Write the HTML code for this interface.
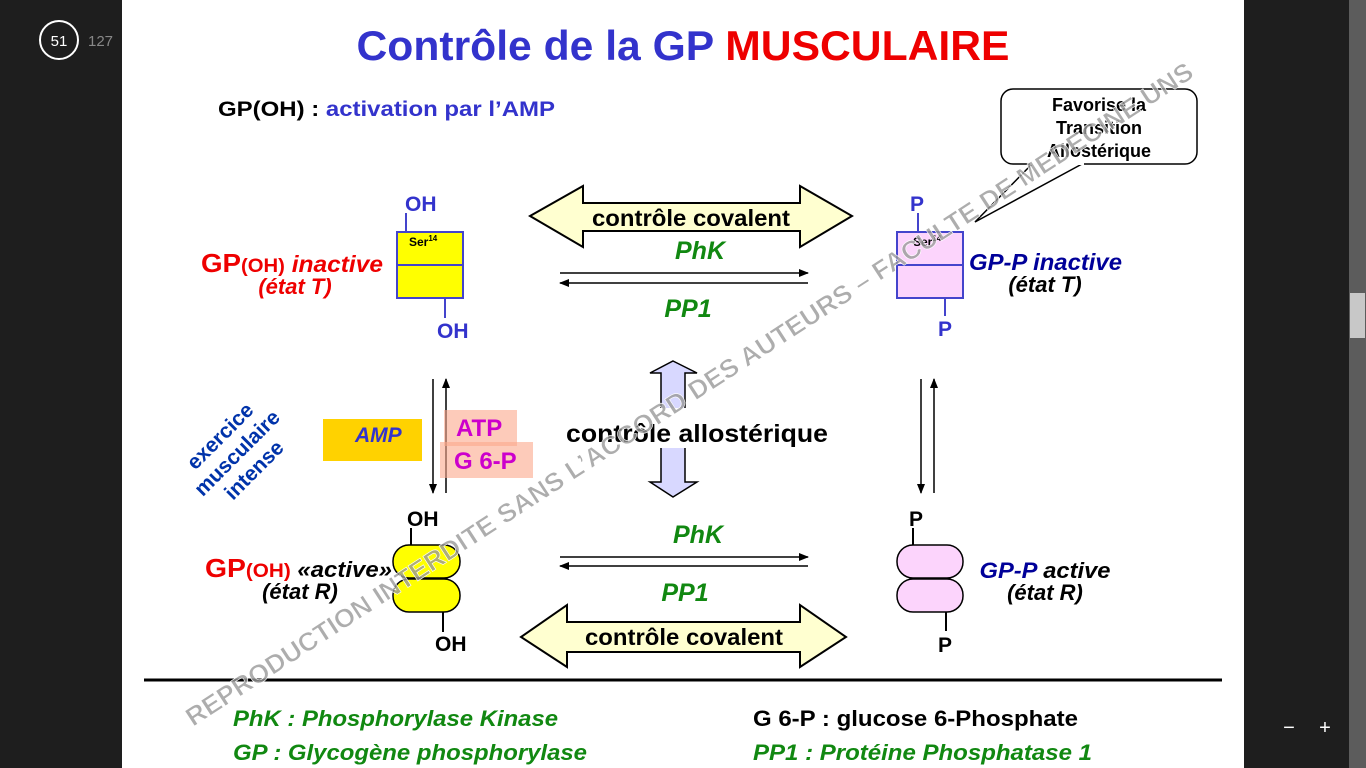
<!DOCTYPE html>
<html><head><meta charset="utf-8"><style>
html,body{margin:0;padding:0;background:#1e1e1e;width:1366px;height:768px;overflow:hidden}
svg{display:block}
text{font-family:"Liberation Sans",Arial,sans-serif;font-weight:bold}
</style></head><body>
<svg width="1366" height="768" viewBox="0 0 1366 768" xmlns="http://www.w3.org/2000/svg">
<defs>
<marker id="ah" markerWidth="10" markerHeight="8" refX="9" refY="4" orient="auto" markerUnits="userSpaceOnUse"><path d="M0,0 L10,4 L0,8 Z" fill="#000"/></marker>
</defs>
<rect x="0" y="0" width="1366" height="768" fill="#1e1e1e"/>
<rect x="122" y="0" width="1122" height="768" fill="#fff"/>
<rect x="1349" y="0" width="17" height="768" fill="#5c5c5c"/>
<rect x="1350" y="293" width="15" height="45" fill="#c8c8c8"/>
<circle cx="59" cy="40" r="19" fill="none" stroke="#fff" stroke-width="2"/>
<text x="59" y="46" text-anchor="middle" font-size="15" fill="#fff" style="font-weight:normal">51</text>
<text x="88" y="46" font-size="15" fill="#888" style="font-weight:normal">127</text>
<text x="1289" y="734" text-anchor="middle" font-size="20" fill="#fff" style="font-weight:normal">−</text>
<text x="1325" y="734" text-anchor="middle" font-size="20" fill="#fff" style="font-weight:normal">+</text>

<text x="683" y="60" text-anchor="middle" font-size="42" fill="#3333cc" textLength="653" lengthAdjust="spacingAndGlyphs">Contrôle de la GP <tspan fill="#ee0000">MUSCULAIRE</tspan></text>
<text x="218" y="116" font-size="21" fill="#000" textLength="337" lengthAdjust="spacingAndGlyphs">GP(OH) : <tspan fill="#3333cc">activation par l’AMP</tspan></text>

<!-- callout -->
<path d="M1032,164 L975,222 L1082,164" fill="#fff" stroke="#000" stroke-width="1.5"/>
<rect x="1001" y="89" width="196" height="75" rx="12" fill="#fff" stroke="#000" stroke-width="1.5"/>
<rect x="1030" y="160" width="54" height="5" fill="#fff"/>
<text font-size="18" fill="#000" text-anchor="middle"><tspan x="1099" y="111">Favorise la</tspan><tspan x="1099" y="134">Transition</tspan><tspan x="1099" y="157">Allostérique</tspan></text>

<!-- top-left box -->
<line x1="406" y1="213" x2="406" y2="232" stroke="#4444cc" stroke-width="2"/>
<text x="405" y="211" font-size="21" fill="#3333cc">OH</text>
<rect x="397" y="232" width="66" height="66" fill="#ffff00" stroke="#4444cc" stroke-width="2"/>
<line x1="397" y1="265" x2="463" y2="265" stroke="#4444cc" stroke-width="2"/>
<text x="409" y="246" font-size="12" fill="#000">Ser<tspan font-size="8" dy="-5">14</tspan></text>
<line x1="445" y1="298" x2="445" y2="318" stroke="#4444cc" stroke-width="2"/>
<text x="437" y="338" font-size="21" fill="#3333cc">OH</text>
<text x="201" y="272" font-size="26" fill="#ee0000" textLength="182" lengthAdjust="spacingAndGlyphs">GP<tspan font-size="19">(OH)</tspan><tspan font-size="23" font-style="italic"> inactive</tspan></text>
<text x="295" y="294" text-anchor="middle" font-size="22" font-style="italic" fill="#ee0000">(état T)</text>

<!-- top-right box -->
<line x1="918" y1="213" x2="918" y2="232" stroke="#4444cc" stroke-width="2"/>
<text x="910" y="211" font-size="21" fill="#3333cc">P</text>
<rect x="897" y="232" width="66" height="66" fill="#fcd4fc" stroke="#4444cc" stroke-width="2"/>
<line x1="897" y1="265" x2="963" y2="265" stroke="#4444cc" stroke-width="2"/>
<text x="913" y="246" font-size="12" fill="#000">Ser<tspan font-size="8" dy="-5">14</tspan></text>
<line x1="945" y1="298" x2="945" y2="316" stroke="#4444cc" stroke-width="2"/>
<text x="938" y="336" font-size="21" fill="#3333cc">P</text>
<text x="969" y="270" font-size="23" font-style="italic" fill="#000099" textLength="153" lengthAdjust="spacingAndGlyphs">GP-P inactive</text>
<text x="1045" y="292" text-anchor="middle" font-size="22" font-style="italic" fill="#000">(état T)</text>

<!-- top covalent arrow -->
<path d="M530,216 L583,186 L583,203 L800,203 L800,186 L852,216 L800,247 L800,231 L583,231 L583,247 Z" fill="#ffffd0" stroke="#000" stroke-width="2"/>
<text x="691" y="226" text-anchor="middle" font-size="23" fill="#000" textLength="198" lengthAdjust="spacingAndGlyphs">contrôle covalent</text>
<text x="700" y="259" text-anchor="middle" font-size="25" font-style="italic" fill="#118811">PhK</text>
<line x1="560" y1="273" x2="808" y2="273" stroke="#000" stroke-width="1.5" marker-end="url(#ah)"/>
<line x1="808" y1="283" x2="560" y2="283" stroke="#000" stroke-width="1.5" marker-end="url(#ah)"/>
<text x="688" y="317" text-anchor="middle" font-size="25" font-style="italic" fill="#118811">PP1</text>

<!-- left verticals -->
<line x1="433" y1="379" x2="433" y2="493" stroke="#000" stroke-width="1.5" marker-end="url(#ah)"/>
<line x1="446" y1="493" x2="446" y2="379" stroke="#000" stroke-width="1.5" marker-end="url(#ah)"/>
<rect x="323" y="419" width="99" height="42" fill="#ffd200"/>
<text x="355" y="442" font-size="21" font-style="italic" fill="#3333cc">AMP</text>
<rect x="444" y="410" width="73" height="36" fill="#fba98c" fill-opacity="0.6"/>
<rect x="440" y="442" width="93" height="36" fill="#fba98c" fill-opacity="0.6"/>
<text x="456" y="436" font-size="24" fill="#cc00cc">ATP</text>
<text x="454" y="469" font-size="24" fill="#cc00cc">G 6-P</text>
<text transform="translate(242,458) rotate(-45)" text-anchor="middle" font-size="21" fill="#0033aa"><tspan x="0" y="-24">exercice</tspan><tspan x="0" y="0">musculaire</tspan><tspan x="0" y="24">intense</tspan></text>

<!-- allosteric arrow -->
<path d="M673,361 L697,373 L685,373 L685,482 L697,482 L673,497 L650,482 L661,482 L661,373 L650,373 Z" fill="#d8d8ff" stroke="#000" stroke-width="1.5"/>
<rect x="640" y="408" width="60" height="40" fill="#fff"/>
<text x="697" y="442" text-anchor="middle" font-size="25" fill="#000" textLength="262" lengthAdjust="spacingAndGlyphs">contrôle allostérique</text>

<!-- right verticals -->
<line x1="921" y1="379" x2="921" y2="493" stroke="#000" stroke-width="1.5" marker-end="url(#ah)"/>
<line x1="934" y1="493" x2="934" y2="379" stroke="#000" stroke-width="1.5" marker-end="url(#ah)"/>

<!-- lower left -->
<text x="407" y="526" font-size="21" fill="#000">OH</text>
<line x1="411" y1="528" x2="411" y2="546" stroke="#000" stroke-width="2"/>
<rect x="393" y="545" width="67" height="33" rx="16" fill="#ffff00" stroke="#000" stroke-width="1.5"/>
<rect x="393" y="579" width="67" height="33" rx="16" fill="#ffff00" stroke="#000" stroke-width="1.5"/>
<line x1="443" y1="612" x2="443" y2="632" stroke="#000" stroke-width="2"/>
<text x="435" y="651" font-size="21" fill="#000">OH</text>
<text x="205" y="577" font-size="26" fill="#ee0000" textLength="187" lengthAdjust="spacingAndGlyphs">GP<tspan font-size="19">(OH)</tspan><tspan font-size="22" font-style="italic" fill="#000"> «active»</tspan></text>
<text x="300" y="599" text-anchor="middle" font-size="22" font-style="italic" fill="#000">(état R)</text>

<text x="698" y="543" text-anchor="middle" font-size="25" font-style="italic" fill="#118811">PhK</text>
<line x1="560" y1="557" x2="808" y2="557" stroke="#000" stroke-width="1.5" marker-end="url(#ah)"/>
<line x1="808" y1="566" x2="560" y2="566" stroke="#000" stroke-width="1.5" marker-end="url(#ah)"/>
<text x="685" y="601" text-anchor="middle" font-size="25" font-style="italic" fill="#118811">PP1</text>

<path d="M521,637 L567,605 L567,622 L800,622 L800,605 L846,637 L800,667 L800,652 L567,652 L567,667 Z" fill="#ffffd0" stroke="#000" stroke-width="2"/>
<text x="684" y="645" text-anchor="middle" font-size="23" fill="#000" textLength="198" lengthAdjust="spacingAndGlyphs">contrôle covalent</text>

<!-- lower right -->
<text x="909" y="526" font-size="21" fill="#000">P</text>
<line x1="913" y1="528" x2="913" y2="546" stroke="#000" stroke-width="2"/>
<rect x="897" y="545" width="66" height="33" rx="16" fill="#fcd4fc" stroke="#000" stroke-width="1.5"/>
<rect x="897" y="579" width="66" height="33" rx="16" fill="#fcd4fc" stroke="#000" stroke-width="1.5"/>
<line x1="946" y1="612" x2="946" y2="631" stroke="#000" stroke-width="2"/>
<text x="938" y="652" font-size="21" fill="#000">P</text>
<text x="1045" y="578" text-anchor="middle" font-size="22" font-style="italic" fill="#000" textLength="131" lengthAdjust="spacingAndGlyphs"><tspan fill="#000099">GP-P</tspan> active</text>
<text x="1045" y="600" text-anchor="middle" font-size="22" font-style="italic" fill="#000">(état R)</text>

<line x1="144" y1="680" x2="1222" y2="680" stroke="#000" stroke-width="3"/>
<text x="233" y="726" font-size="22" font-style="italic" fill="#118811" textLength="325" lengthAdjust="spacingAndGlyphs">PhK : Phosphorylase Kinase</text>
<text x="233" y="760" font-size="22" font-style="italic" fill="#118811" textLength="354" lengthAdjust="spacingAndGlyphs">GP : Glycogène phosphorylase</text>
<text x="753" y="726" font-size="22" fill="#000" textLength="325" lengthAdjust="spacingAndGlyphs">G 6-P : glucose 6-Phosphate</text>
<text x="753" y="760" font-size="22" font-style="italic" fill="#118811" textLength="339" lengthAdjust="spacingAndGlyphs">PP1 : Protéine Phosphatase 1</text>

<!-- watermark (on top) -->
<text transform="translate(193,727) rotate(-33)" font-size="26" fill="#999" fill-opacity="0.8" stroke="#fff" stroke-width="0.6" textLength="1195" lengthAdjust="spacingAndGlyphs">REPRODUCTION INTERDITE SANS L’ACCORD DES AUTEURS – FACULTE DE MEDECINE UNS</text>
</svg>
</body></html>
